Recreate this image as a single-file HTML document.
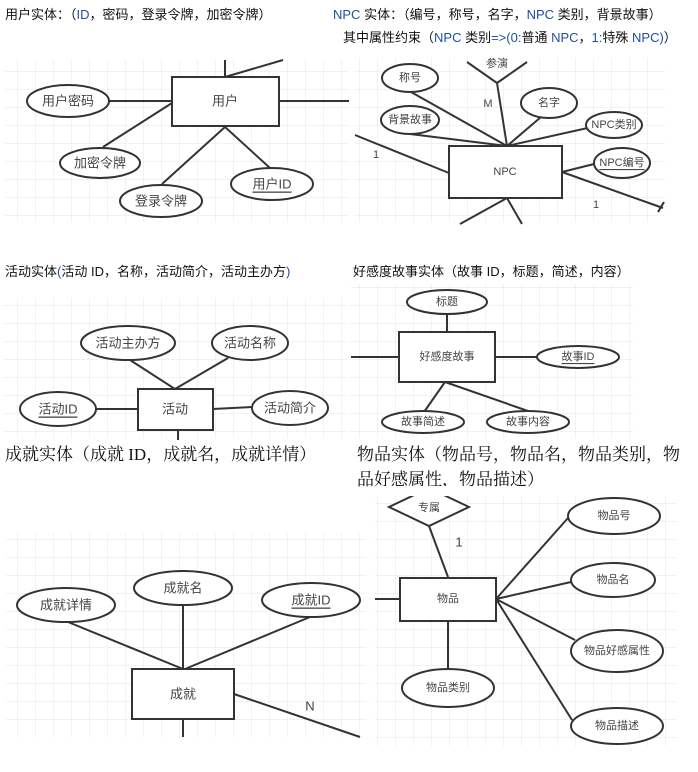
<!DOCTYPE html>
<html><head><meta charset="utf-8"><style>
html,body{margin:0;padding:0;background:#fff;width:698px;height:772px;overflow:hidden}
svg{display:block}
.t{font-family:"Liberation Sans","Noto Sans CJK SC",sans-serif;font-size:13px;fill:#111}
.s{font-family:"Liberation Serif","Noto Serif CJK SC",serif;font-size:17px;fill:#111}
.b{fill:#1f4fa0}
.l{font-family:"Liberation Sans","Noto Sans CJK SC",sans-serif;font-size:11px;fill:#444;text-anchor:middle;dominant-baseline:central}
.l2{font-family:"Liberation Sans","Noto Sans CJK SC",sans-serif;font-size:13px;fill:#444;text-anchor:middle;dominant-baseline:central}
.sh{fill:#fff;stroke:#333;stroke-width:2}
.ln{stroke:#333;stroke-width:2;fill:none}
</style></head><body>
<svg width="698" height="772" viewBox="0 0 698 772" xmlns="http://www.w3.org/2000/svg">
<defs>
<pattern id="g" width="18" height="18" patternUnits="userSpaceOnUse">
<path d="M18 0V18M0 18H18" stroke="#e6e6e6" stroke-width="1" fill="none"/>
</pattern>
</defs>
<!-- grids -->
<rect x="5" y="60" width="344" height="162" fill="url(#g)"/>
<rect x="355" y="58" width="310" height="164" fill="url(#g)"/>
<rect x="4" y="298" width="343" height="140" fill="url(#g)"/>
<rect x="351" y="284" width="282" height="154" fill="url(#g)"/>
<rect x="6" y="533" width="360" height="204" fill="url(#g)"/>
<rect x="375" y="496" width="301" height="250" fill="url(#g)"/>

<!-- titles -->
<text class="t" x="5" y="19">用户实体：（<tspan class="b">ID</tspan>，密码，登录令牌，加密令牌）</text>
<text class="t" x="333" y="19"><tspan class="b">NPC</tspan> 实体：（编号，称号，名字，<tspan class="b">NPC</tspan> 类别，背景故事）</text>
<text class="t" x="343" y="42">其中属性约束（<tspan class="b">NPC</tspan> 类别<tspan class="b">=&gt;(0:</tspan>普通 <tspan class="b">NPC</tspan>，<tspan class="b">1:</tspan>特殊 <tspan class="b">NPC)</tspan>）</text>
<text class="t" x="5" y="276">活动实体<tspan class="b">(</tspan>活动 ID，名称，活动简介，活动主办方<tspan class="b">)</tspan></text>
<text class="t" x="353" y="276">好感度故事实体（故事 ID，标题，简述，内容）</text>
<text class="s" x="5" y="460">成就实体（成就 ID，成就名，成就详情）</text>
<text class="s" x="357" y="460">物品实体（物品号，物品名，物品类别，物</text>
<text class="s" x="357" y="485">品好感属性，物品描述）</text>

<!-- Panel 1 user -->
<path class="ln" d="M225 77V60M225 77L283 60M279 101H349M108 101H172M172 103L103 147M225 127L162 184M225 127L270 168"/>
<rect class="sh" x="172" y="77" width="107" height="49"/>
<text class="l2" x="225" y="101">用户</text>
<ellipse class="sh" cx="68" cy="101" rx="41" ry="16"/><text class="l2" x="68" y="101">用户密码</text>
<ellipse class="sh" cx="100" cy="163" rx="40" ry="15"/><text class="l2" x="100" y="163">加密令牌</text>
<ellipse class="sh" cx="161" cy="201" rx="41" ry="16"/><text class="l2" x="161" y="201">登录令牌</text>
<ellipse class="sh" cx="272" cy="184" rx="41" ry="16"/><text class="l2" x="272" y="184" text-decoration="underline">用户ID</text>

<!-- Panel 2 NPC -->
<path class="ln" d="M467 62L497 83L527 62M497 83L507 146M411 92L507 146M410 134L507 146M541 117L507 146M592 127L507 146M562 172L598 163M562 172L663 208M658 212L664 202M355 135L449 173M507 198L460 224M507 198L522 224"/>
<text class="l" x="497" y="64">参演</text>
<rect class="sh" x="449" y="146" width="113" height="52"/>
<text class="l" x="505" y="172">NPC</text>
<ellipse class="sh" cx="410" cy="78" rx="28" ry="14"/><text class="l" x="410" y="78">称号</text>
<ellipse class="sh" cx="410" cy="120" rx="29" ry="14"/><text class="l" x="410" y="120">背景故事</text>
<ellipse class="sh" cx="549" cy="103" rx="28" ry="15"/><text class="l" x="549" y="103">名字</text>
<ellipse class="sh" cx="614" cy="125" rx="28" ry="13"/><text class="l" x="614" y="125">NPC类别</text>
<ellipse class="sh" cx="622" cy="163" rx="28" ry="15"/><text class="l" x="622" y="163" text-decoration="underline">NPC编号</text>
<text class="l" x="376" y="155">1</text>
<text class="l" x="488" y="104">M</text>
<text class="l" x="596" y="205">1</text>

<!-- Panel 3 活动 -->
<path class="ln" d="M130 360L175 389M228 358L175 389M96 409H138M213 409L252 407M178 430V440"/>
<rect class="sh" x="138" y="389" width="75" height="41"/><text class="l2" x="175" y="409">活动</text>
<ellipse class="sh" cx="128" cy="343" rx="47" ry="17"/><text class="l2" x="128" y="343">活动主办方</text>
<ellipse class="sh" cx="250" cy="343" rx="38" ry="17"/><text class="l2" x="250" y="343">活动名称</text>
<ellipse class="sh" cx="58" cy="409" rx="38" ry="17"/><text class="l2" x="58" y="409" text-decoration="underline">活动ID</text>
<ellipse class="sh" cx="290" cy="408" rx="38" ry="17"/><text class="l2" x="290" y="408">活动简介</text>

<!-- Panel 4 好感度故事 -->
<path class="ln" d="M447 314V332M495 357H538M351 357H399M445 382L424 412M445 382L528 411"/>
<rect class="sh" x="399" y="332" width="96" height="50"/><text class="l" x="447" y="357">好感度故事</text>
<ellipse class="sh" cx="447" cy="302" rx="40" ry="12"/><text class="l" x="447" y="302">标题</text>
<ellipse class="sh" cx="578" cy="357" rx="41" ry="11"/><text class="l" x="578" y="357" text-decoration="underline">故事ID</text>
<ellipse class="sh" cx="423" cy="422" rx="41" ry="11"/><text class="l" x="423" y="422">故事简述</text>
<ellipse class="sh" cx="528" cy="422" rx="41" ry="11"/><text class="l" x="528" y="422">故事内容</text>

<!-- Panel 5 成就 -->
<path class="ln" d="M68 622L183 669M183 606V669M310 617L185 669M234 694L360 737M183 719V737"/>
<rect class="sh" x="132" y="669" width="102" height="50"/><text class="l2" x="183" y="694">成就</text>
<ellipse class="sh" cx="66" cy="605" rx="49" ry="17"/><text class="l2" x="66" y="605">成就详情</text>
<ellipse class="sh" cx="183" cy="588" rx="49" ry="17"/><text class="l2" x="183" y="588">成就名</text>
<ellipse class="sh" cx="311" cy="600" rx="49" ry="17"/><text class="l2" x="311" y="600" text-decoration="underline">成就ID</text>
<text class="l2" x="310" y="706">N</text>

<!-- Panel 6 物品 -->
<path class="ln" d="M429 526L448 577M375 599H400M496 599L568 518M496 599L571 582M496 599L575 640M496 599L572 720M448 621V669"/>
<polygon class="sh" points="429,488 469,507 429,526 389,507"/>
<rect x="375" y="486" width="110" height="10" fill="#fff"/>
<text class="l" x="429" y="508">专属</text>
<text class="l2" x="459" y="542">1</text>
<rect class="sh" x="400" y="578" width="96" height="43"/><text class="l" x="448" y="599">物品</text>
<ellipse class="sh" cx="614" cy="516" rx="46" ry="18"/><text class="l" x="614" y="516">物品号</text>
<ellipse class="sh" cx="613" cy="580" rx="42" ry="17"/><text class="l" x="613" y="580">物品名</text>
<ellipse class="sh" cx="617" cy="651" rx="46" ry="21"/><text class="l" x="617" y="651">物品好感属性</text>
<ellipse class="sh" cx="617" cy="726" rx="46" ry="18"/><text class="l" x="617" y="726">物品描述</text>
<ellipse class="sh" cx="448" cy="688" rx="46" ry="19"/><text class="l" x="448" y="688">物品类别</text>
</svg>
</body></html>
